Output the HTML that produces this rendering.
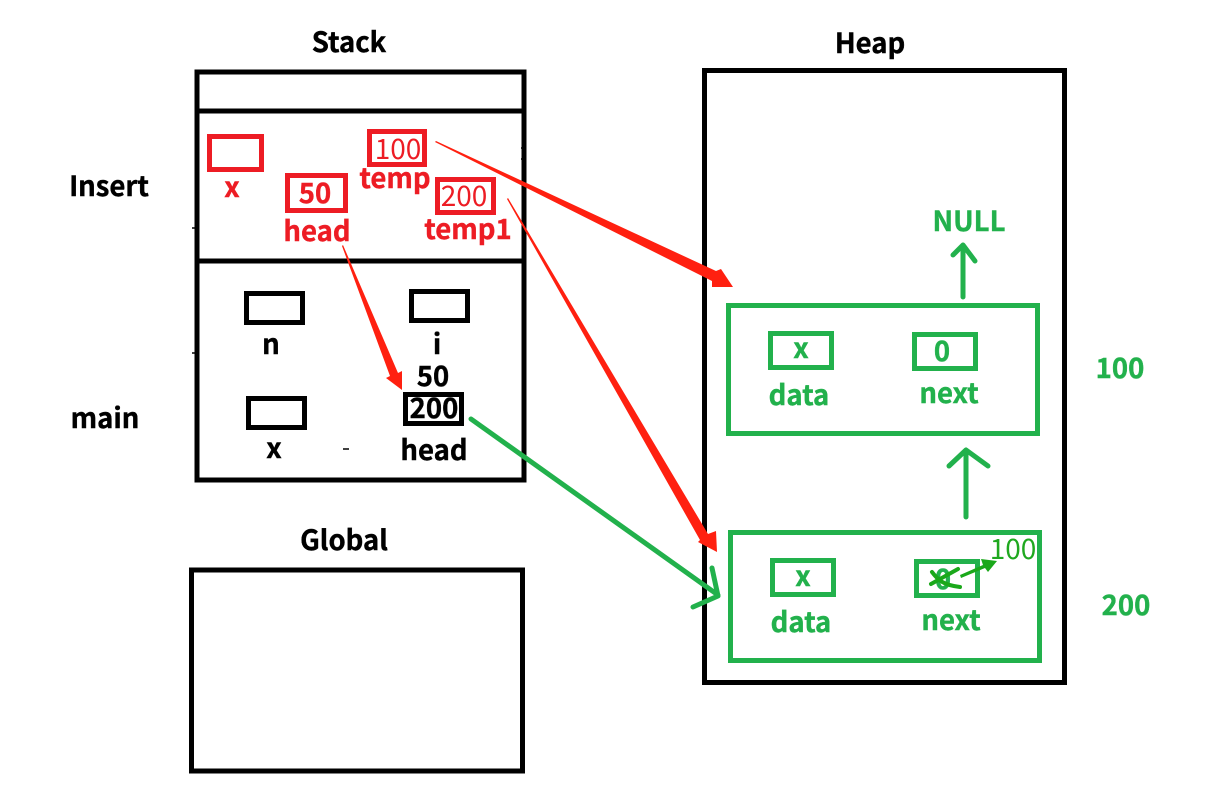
<!DOCTYPE html>
<html><head><meta charset="utf-8"><style>
html,body{margin:0;padding:0;background:#fff}
svg{display:block}
text{font-family:"Noto Sans CJK SC","Liberation Sans",sans-serif;font-size:27.5px;font-weight:700;text-anchor:middle;stroke-width:.4px}
.k{fill:#000;stroke:#000}.r{fill:#ed1c24;stroke:#ed1c24}.g{fill:#22b14c;stroke:#22b14c}
.l{font-weight:400;font-size:28px;stroke-width:0}
</style></head><body>
<svg width="1211" height="796" viewBox="0 0 1211 796" xmlns="http://www.w3.org/2000/svg">
<rect width="1211" height="796" fill="#fff"/>
<g fill="none" stroke="#000" stroke-width="5">
<rect x="197" y="72" width="327" height="408"/>
<path d="M197 111H524M197 261H524"/>
<rect x="704.500" y="70.500" width="360" height="612"/>
<rect x="191.500" y="570" width="331" height="201"/>
<rect x="246.500" y="293.500" width="56" height="29"/>
<rect x="411.500" y="291.500" width="56" height="29"/>
<rect x="248.500" y="398.500" width="56" height="29"/>
<rect x="405.500" y="394.500" width="56" height="29"/>
</g>
<path d="M343 449h6M521 148h2M521 159h2M192 228h3M192 353h3" stroke="#000" stroke-width="1.500"/>
<g fill="none" stroke="#ed1c24" stroke-width="5">
<rect x="209.500" y="136.500" width="52" height="33"/>
<rect x="369.500" y="131.500" width="55" height="33"/>
<rect x="287.500" y="175.500" width="58" height="35"/>
<rect x="437.500" y="179.500" width="56" height="33"/>
</g>
<g fill="none" stroke="#22b14c" stroke-width="5">
<rect x="728.500" y="305.500" width="309" height="128"/>
<rect x="770.500" y="333.500" width="61" height="34"/>
<rect x="914.500" y="334.500" width="61" height="34"/>
<rect x="730.500" y="532.500" width="309" height="128"/>
<rect x="772.500" y="560.500" width="61" height="34"/>
<rect x="916.500" y="561.500" width="61" height="34"/>
</g>
<g fill="none" stroke="#22b14c" stroke-width="5" stroke-linecap="round" stroke-linejoin="round">
<path d="M963 297V246M953 255L963 245L975 261"/>
<path d="M966 517V452M949 466L966 450L988 466"/>
<path d="M471 419L718 595M712 568L718 596L693 607"/>
</g>
<text class="k" x="349" y="52">Stack</text>
<text class="k" x="870" y="53">Heap</text>
<text class="k" x="344" y="550">Global</text>
<text class="k" x="109" y="196">Insert</text>
<text class="k" x="105" y="428">main</text>
<text class="k" x="271" y="354">n</text>
<text class="k" x="437" y="354">i</text>
<text class="k" x="433" y="386">50</text>
<text class="k" x="434" y="418">200</text>
<text class="k" x="274" y="458">x</text>
<text class="k" x="434" y="460">head</text>
<text class="r" x="232" y="197">x</text>
<text class="r" x="315" y="203">50</text>
<text class="r" x="317" y="241">head</text>
<text class="r" x="395" y="188">temp</text>
<text class="r" x="468" y="239">temp1</text>
<text class="r l" x="398" y="159">100</text>
<text class="r l" x="464" y="206">200</text>
<text class="g" x="969" y="231">NULL</text>
<text class="g" x="801" y="358">x</text>
<text class="g" x="942" y="361">0</text>
<text class="g" x="799" y="405">data</text>
<text class="g" x="949" y="403">next</text>
<text class="g" x="1120" y="378">100</text>
<text class="g" x="1126" y="615">200</text>
<text class="g" x="803" y="586">x</text>
<text class="g" x="943" y="589">0</text>
<text class="g" x="801" y="632">data</text>
<text class="g" x="951" y="630">next</text>
<text x="1013" y="559" class="l" style="fill:#1fa81f">100</text>
<g fill="none" stroke="#1aa81a" stroke-width="4" stroke-linecap="round">
<path d="M931 584L958 569M932 572C938 580 943 585 960 587"/>
</g>
<path d="M960 575L983 565L981 559L997 561L988 572L985 568L961 578Z" fill="#1aa81a"/>
<g fill="#ff2010">
<polygon points="435,142 436,141 716,271 721,269 733,287 712,287 712,281"/>
<polygon points="507,199 508,198 708,534 716,531 717,552 698,542 700,540"/>
<polygon points="342,246 343,245 398,373 402,371 402,390 386,378 390,376"/>
</g>
</svg>
</body></html>
